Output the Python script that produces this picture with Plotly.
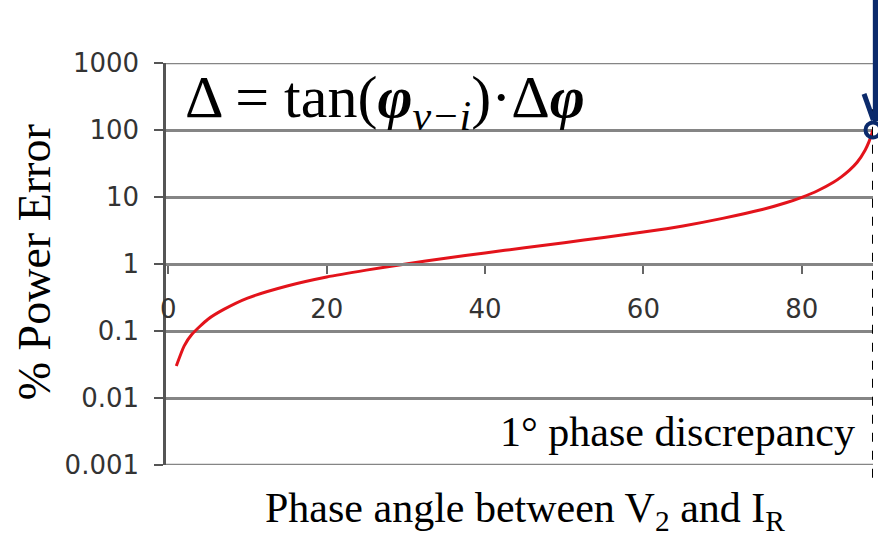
import plotly.graph_objects as go

# Phase angle between V2 and IR (degrees) and resulting % power error
phase_deg = [1, 2, 3, 5, 7, 10, 15, 20, 25, 30, 35, 40, 45, 50, 55, 60,
             65, 70, 75, 78, 80, 82, 84, 85, 86, 87, 88, 88.5, 89]
power_err = [0.03, 0.06, 0.09, 0.15, 0.21, 0.31, 0.47, 0.64, 0.81, 1.0, 1.22,
             1.46, 1.75, 2.08, 2.49, 3.0, 3.7, 4.8, 6.5, 8.2, 9.9, 12.4, 16.6,
             20, 25, 33, 50, 67, 100]

x_ticks = [0, 20, 40, 60, 80]
y_ticks = [0.001, 0.01, 0.1, 1, 10, 100, 1000]
y_tick_text = ["0.001", "0.01", "0.1", "1", "10", "100", "1000"]

# highlighted point at the end of the curve
marker_x = [89]
marker_y = [100]

NAVY = "#0b2a6b"
GRID = "#858585"
SERIF = "Liberation Serif, Times New Roman, serif"
SANS = "DejaVu Sans, Arial, sans-serif"

fig = go.Figure()

fig.add_trace(go.Scatter(
    x=phase_deg, y=power_err, mode="lines",
    line=dict(color="#e3131b", width=3, shape="spline", smoothing=0.6),
    hoverinfo="skip",
))

fig.add_trace(go.Scatter(
    x=marker_x, y=marker_y, mode="markers",
    marker=dict(symbol="circle-open", size=15, color=NAVY, line=dict(width=4, color=NAVY)),
    cliponaxis=False, hoverinfo="skip",
))

fig.update_layout(
    width=878, height=537,
    margin=dict(l=166, r=5, t=63, b=72),
    plot_bgcolor="white", paper_bgcolor="white",
    showlegend=False,
    xaxis=dict(
        range=[-0.3, 89.0], tickvals=x_ticks,
        anchor="free", position=0.5,
        showgrid=False, zeroline=False,
        showline=True, linecolor=GRID, linewidth=2.5,
        ticks="outside", ticklen=8, tickwidth=1.5, tickcolor="#666",
        ticklabelstandoff=13,
        tickfont=dict(family=SANS, size=26, color="#333"),
    ),
    yaxis=dict(
        type="log", range=[-3, 3],
        tickvals=y_ticks, ticktext=y_tick_text,
        showgrid=True, gridcolor=GRID, gridwidth=2.5,
        zeroline=False,
        showline=True, linecolor="#555", linewidth=2.5,
        ticks="outside", ticklen=9, tickwidth=2, tickcolor="#555",
        ticklabelstandoff=10,
        tickfont=dict(family=SANS, size=26, color="#333"),
    ),
)

# gridlines at the top and bottom edges of the value range
for edge in (y_ticks[0], y_ticks[-1]):
    fig.add_shape(type="line", xref="paper", yref="y", x0=0, x1=1,
                  y0=edge, y1=edge, line=dict(color=GRID, width=2.5), layer="below")

# dashed marker at 89 degrees
fig.add_shape(type="line", xref="x", yref="paper", x0=89, x1=89,
              y0=-0.032, y1=0.885,
              line=dict(color="black", width=2, dash="dash"))

# navy arrow pointing to the 89 degree point
fig.add_shape(type="line", xref="paper", yref="paper",
              x0=1.004, x1=1.004, y0=1.16, y1=0.855,
              line=dict(color=NAVY, width=6))
fig.add_shape(type="line", xref="paper", yref="paper",
              x0=0.9873, y0=0.923, x1=1.0005, y1=0.858,
              line=dict(color=NAVY, width=5))

fig.add_annotation(
    xref="paper", yref="paper", x=0.024, y=0.905,
    xanchor="left", yanchor="middle", showarrow=False,
    text="Δ = tan(<b><i>φ</i></b><sub><i>v−i</i></sub>)·Δ<b><i>φ</i></b>",
    font=dict(family=SERIF, size=60, color="black"),
)

fig.add_annotation(
    xref="paper", yref="paper", x=0.978, y=0.082,
    xanchor="right", yanchor="middle", showarrow=False,
    text="1° phase discrepancy",
    font=dict(family=SERIF, size=42, color="black"),
)

fig.add_annotation(
    xref="paper", yref="paper", x=0.508, y=-0.115,
    xanchor="center", yanchor="middle", showarrow=False,
    text="Phase angle between V<sub>2</sub> and I<sub>R</sub>",
    font=dict(family=SERIF, size=42, color="black"),
)

fig.add_annotation(
    xref="paper", yref="paper", x=-0.185, y=0.505,
    xanchor="center", yanchor="middle", showarrow=False, textangle=-90,
    text="% Power Error",
    font=dict(family=SERIF, size=46, color="black"),
)

fig.write_html("out.html")
